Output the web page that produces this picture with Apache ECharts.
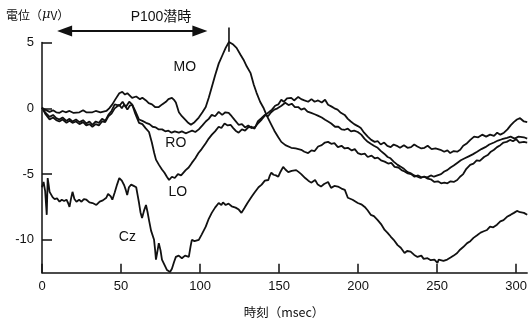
<!DOCTYPE html>
<html><head><meta charset="utf-8">
<script src="https://cdn.jsdelivr.net/npm/echarts@6/dist/echarts.min.js"></script>
<style>html,body{margin:0;padding:0;background:#fff}#c{width:530px;height:325px}</style>
</head><body><div id="c"></div>
<script>
const xTicks=[0,50,100,150,200,250,300];
const yTicks=[-10,-5,0,5];
const seriesNames=['MO','RO','LO','Cz'];

const moData=[[0,0.05],[2,-0.1],[4.8,-0.27],[7,-0.15],[9,-0.3],[11.1,-0.34],[13,-0.2],[15,-0.3],[17.4,-0.2],[20,-0.35],[23.7,-0.3],[26,-0.15],[28,-0.3],[31.9,-0.3],[34,-0.2],[37,-0.3],[40.7,-0.2],[42.5,0.0],[44.5,0.3],[46.5,0.7],[48.9,1.15],[50.8,1.25],[52.5,1.05],[54,1.15],[55.2,1.0],[57,0.8],[59.6,0.9],[62,0.7],[63.5,0.8],[65.8,0.6],[67.5,0.4],[69.6,0.3],[71.5,0.1],[73.9,0.1],[76,0.3],[78.4,0.5],[80,0.7],[82.2,0.8],[83.5,0.65],[84.7,0.45],[86.6,-0.3],[88.5,-0.6],[90.9,-0.9],[92.5,-1.1],[94.2,-1.25],[96.5,-1.05],[99.2,-0.7],[101.5,-0.3],[103.6,0.1],[105.5,0.8],[107.4,1.6],[109.5,2.5],[111.8,3.4],[114,4.0],[116.2,4.6],[118.3,5.05],[121,4.85],[123.1,4.6],[125.5,4.1],[127.5,3.7],[129.5,3.2],[131.9,2.7],[134,1.8],[135.7,1.2],[138,0.5],[140.1,0.05],[142,-0.5],[144.5,-1.1],[147,-1.7],[149.5,-2.2],[151.4,-2.55],[154,-2.8],[157.7,-3.0],[160.5,-3.05],[164,-3.15],[166,-3.3],[168.4,-3.4],[170.5,-3.2],[172.5,-3.25],[174.7,-2.9],[177,-2.8],[179,-2.6],[181,-2.55],[183,-2.7],[185,-2.65],[187.2,-2.95],[189.5,-2.85],[191.5,-3.05],[193.5,-3.0],[196,-3.2],[197.9,-3.1],[199.8,-3.4],[202,-3.5],[204.2,-3.45],[206.1,-3.7],[208.5,-3.6],[210.5,-3.8],[212.4,-3.75],[214.5,-3.95],[216.8,-4.05],[219,-4.2],[221,-4.15],[223.1,-4.45],[225.5,-4.5],[227.5,-4.7],[229.4,-4.8],[231.5,-4.95],[233.5,-5.0],[235.7,-5.2],[238,-5.1],[240,-5.25],[242,-5.2],[244,-5.35],[246,-5.4],[248.3,-5.6],[250.5,-5.55],[252.5,-5.7],[254.6,-5.65],[256.5,-5.7],[258.5,-5.55],[260.5,-5.6],[262.7,-5.45],[264.5,-5.2],[266.5,-5.0],[268.5,-4.6],[270.9,-4.3],[273,-4.2],[275,-3.95],[277,-4.0],[279.7,-3.7],[282,-3.55],[284,-3.3],[286,-3.15],[287.9,-2.95],[290,-2.8],[292,-2.6],[294,-2.55],[296.1,-2.4],[298,-2.5],[300,-2.35],[302,-2.6],[304.9,-2.55],[307,-2.6]];

const roData=[[0,0.05],[2,-0.3],[4.8,-0.65],[7,-0.5],[9,-0.75],[11,-0.85],[13,-0.7],[15.5,-0.95],[17.4,-0.8],[19.3,-1.0],[21.5,-0.85],[23.7,-1.05],[26,-0.9],[28,-1.15],[30,-1.0],[31.9,-1.25],[34,-1.0],[36,-1.1],[38,-0.8],[40,-0.95],[42,-0.5],[44,-0.2],[46,0.3],[47.2,0.4],[49,0.2],[51,0.5],[53,0.1],[55.2,0.5],[57,0.3],[59,-0.2],[61.4,-0.85],[63.5,-0.95],[65.8,-1.1],[68,-1.2],[70,-1.4],[72,-1.45],[73.9,-1.6],[76,-1.6],[78,-1.75],[80,-1.7],[82,-1.85],[84,-1.75],[86.6,-1.85],[88.5,-1.75],[90.9,-1.9],[92.9,-1.8],[95,-1.7],[97,-1.8],[99.2,-1.6],[101.5,-1.3],[103.6,-1.0],[105.5,-0.8],[107.4,-0.5],[109.5,-0.6],[111.8,-0.27],[114,-0.5],[116,-0.3],[118.1,-0.35],[120,-0.6],[122,-0.9],[124.4,-1.25],[126.5,-1.2],[128.5,-1.45],[130.5,-1.3],[132.5,-1.5],[135,-1.4],[137,-1.1],[139,-0.85],[141.4,-0.5],[143.5,-0.3],[145.5,-0.1],[147.5,0.2],[149.5,0.3],[151.4,0.65],[153,0.5],[155,0.75],[157.7,0.8],[159.5,0.6],[162.1,0.87],[164,0.7],[166,0.6],[168.4,0.5],[170.5,0.7],[172.5,0.5],[174.7,0.6],[177,0.45],[179.1,0.65],[181,0.27],[183,0.15],[185,0.0],[187,-0.1],[189.1,-0.34],[191.5,-0.5],[193.5,-0.8],[195.4,-1.0],[197.5,-1.2],[199.8,-1.35],[201.7,-1.5],[203.8,-1.85],[206.1,-2.15],[208.3,-2.4],[210.5,-2.55],[212.5,-2.5],[214.3,-2.75],[216.5,-2.6],[218.5,-2.85],[220.6,-2.95],[222.5,-2.75],[224.5,-2.85],[226.5,-3.0],[229,-2.8],[231.3,-3.0],[233.5,-2.95],[235.5,-2.75],[237.5,-2.9],[240,-3.05],[242,-3.0],[244,-2.85],[246.5,-3.1],[249,-3.05],[252.1,-3.15],[254.5,-3.3],[256.5,-3.2],[258.3,-3.4],[260.5,-3.25],[262.7,-3.3],[264.6,-3.15],[266.5,-2.85],[268.5,-2.7],[271,-2.4],[273.4,-2.15],[276,-2.2],[278.5,-2.0],[281,-2.15],[283.5,-2.0],[286,-2.1],[288,-1.85],[290,-2.0],[292.3,-1.85],[294.5,-1.6],[296.5,-1.3],[298.5,-1.05],[300.5,-0.85],[302.5,-0.75],[304.9,-1.0],[307,-1.05]];

const loData=[[0,0.05],[2,-0.4],[4.8,-0.85],[7,-0.7],[9,-0.9],[11,-1.0],[13,-0.85],[15.5,-1.1],[17.4,-0.95],[19.3,-1.1],[21.5,-1.0],[23.7,-1.2],[26,-1.05],[28,-1.3],[30,-1.2],[31.9,-1.4],[34,-1.2],[36,-1.3],[38,-1.0],[40,-1.05],[42,-0.6],[44,-0.4],[46,0.0],[48.9,0.27],[50.5,0.0],[52,0.3],[54,-0.1],[55.5,0.2],[57.1,0.27],[59,-0.4],[61.4,-1.1],[63.5,-1.2],[65.5,-1.5],[67.7,-1.8],[69.5,-2.6],[71,-3.4],[72.1,-3.9],[74,-4.3],[75.9,-4.65],[77.5,-4.9],[79,-5.2],[80.4,-5.45],[82.2,-5.2],[84,-5.3],[86,-5.0],[88,-5.1],[90.9,-4.7],[92.8,-4.5],[94.8,-4.15],[97,-3.8],[99,-3.4],[101,-3.1],[103.6,-2.65],[105.5,-2.3],[107.5,-2.0],[109.5,-1.75],[111.8,-1.4],[113.5,-1.5],[115.5,-1.15],[117.5,-1.3],[119.3,-1.25],[121,-1.5],[122.5,-1.7],[124.4,-1.85],[126.5,-1.6],[128.5,-1.7],[130.5,-1.45],[132.5,-1.4],[134.5,-1.55],[136.5,-1.0],[138.8,-0.75],[141,-0.5],[143,-0.6],[145,-0.3],[147,-0.1],[149,0.0],[151.5,0.2],[153.9,0.42],[156,0.25],[158,0.35],[160,0.1],[162.1,0.1],[164,-0.1],[166,0.0],[168,-0.25],[170.3,-0.35],[172.5,-0.45],[174.5,-0.55],[177,-0.7],[179.1,-0.87],[181,-1.0],[183,-1.15],[185.4,-1.4],[187.5,-1.4],[189.5,-1.6],[191.6,-1.63],[193.5,-1.55],[195.5,-1.75],[197.5,-1.7],[199.8,-1.8],[202,-2.0],[204,-2.3],[206.1,-2.55],[208,-2.7],[210,-2.85],[212.4,-3.0],[214.5,-3.25],[216.5,-3.45],[218.7,-3.7],[220.5,-3.8],[222.5,-4.05],[225,-4.3],[227,-4.45],[229,-4.6],[231.3,-4.85],[233.5,-4.95],[235.5,-5.1],[237.6,-5.2],[239.5,-5.3],[241.5,-5.2],[243.9,-5.25],[246,-5.1],[248,-5.2],[250.2,-5.1],[252.5,-5.0],[254.5,-4.8],[256.4,-4.7],[258.5,-4.5],[260.5,-4.35],[262.7,-4.15],[265,-3.95],[267.5,-3.8],[270,-3.65],[272.5,-3.5],[275.3,-3.3],[278,-3.1],[280.5,-2.95],[283,-2.75],[286,-2.6],[288.5,-2.45],[291,-2.35],[294.2,-2.25],[296.5,-2.15],[299,-2.3],[301.5,-2.15],[304.9,-2.2],[307,-2.3]];

const czData=[[0,-6.0],[1,-5.6],[2,-6.3],[3,-8.1],[3.6,-5.3],[4.2,-5.8],[4.8,-6.35],[5.8,-6.5],[6.7,-6.75],[8,-6.9],[9.5,-6.85],[11.1,-7.1],[12.5,-6.95],[14,-7.05],[15.5,-6.95],[16.5,-7.2],[17.4,-7.5],[18.3,-6.9],[19.3,-6.35],[20.5,-6.9],[21.8,-7.1],[23.5,-6.95],[25,-7.1],[26.5,-6.9],[28.1,-6.95],[30,-7.15],[32,-7.2],[34.4,-7.35],[36.5,-7.1],[38.5,-7.0],[40.7,-6.8],[41.8,-6.5],[42.6,-6.35],[43.5,-6.7],[44.5,-6.95],[46,-6.4],[47.5,-5.8],[48.9,-5.3],[50.5,-5.5],[52,-5.85],[53,-6.2],[53.9,-6.6],[55,-6.0],[56.4,-5.8],[58,-5.9],[59.6,-6.0],[60.5,-6.6],[61.4,-7.2],[62.3,-7.9],[63.3,-8.35],[64.5,-7.8],[65.8,-7.35],[66.8,-7.9],[67.7,-8.5],[69,-9.3],[70.9,-10.0],[71.6,-10.8],[72.1,-11.5],[73,-10.9],[73.9,-10.25],[75,-10.8],[75.9,-11.5],[77.5,-11.9],[79.1,-12.3],[81,-12.45],[82.2,-12.2],[83.5,-11.7],[84.7,-11.3],[86.5,-11.2],[88.5,-11.4],[90.5,-11.2],[92.9,-11.3],[94,-10.5],[94.8,-10.0],[96.5,-10.1],[97.5,-9.95],[99.2,-10.0],[101,-9.6],[103.6,-9.0],[105.5,-8.4],[107.4,-7.95],[109.5,-7.55],[111.8,-7.2],[113.5,-7.35],[114.5,-7.15],[116.2,-7.35],[118,-7.25],[120,-7.45],[122.5,-7.55],[124.5,-7.7],[126.2,-7.95],[128,-7.6],[130,-7.2],[132.5,-6.75],[134.5,-6.4],[137,-6.0],[139,-5.8],[141,-5.5],[143.2,-5.45],[144.2,-5.1],[145.1,-4.9],[146.5,-5.05],[148,-5.1],[149.5,-5.2],[151,-4.8],[152.6,-4.45],[154,-4.65],[155.8,-4.85],[158,-4.75],[160.8,-4.7],[162.5,-4.85],[164,-5.0],[166.5,-5.3],[168.5,-5.5],[170.3,-5.65],[172.8,-5.45],[174.5,-5.8],[176.5,-5.95],[178.5,-5.75],[181,-5.6],[182.9,-6.05],[185,-5.9],[187.2,-5.95],[189.5,-6.1],[191.6,-6.2],[193.5,-6.8],[196.5,-6.95],[199.8,-7.2],[202,-7.3],[204.2,-7.5],[206,-7.75],[208,-8.1],[210,-8.2],[212.4,-8.5],[214.5,-8.8],[216.8,-9.25],[218.5,-9.45],[220.6,-9.75],[222.5,-10.0],[225,-10.4],[227,-10.6],[229.4,-11.0],[231,-10.85],[233.2,-10.9],[235.5,-11.15],[237.6,-11.3],[240,-11.2],[241.5,-11.45],[243.9,-11.4],[246,-11.55],[248.3,-11.5],[250.2,-11.75],[251,-11.5],[252.1,-11.55],[254,-11.6],[256.4,-11.5],[258.5,-11.35],[260.5,-11.2],[262.7,-11.0],[264.5,-10.75],[266.5,-10.55],[269,-10.25],[271,-10.1],[273,-9.85],[275.3,-9.65],[277.5,-9.45],[279.5,-9.35],[281.6,-9.25],[283.5,-9.0],[285.5,-9.05],[287.9,-8.85],[290,-8.6],[292,-8.5],[294.2,-8.25],[296.5,-8.1],[298.6,-7.95],[300.5,-7.8],[302.5,-7.9],[304.9,-7.95],[307,-8.1]];

const labelPos={MO:[90.4,3.16],RO:[84.7,-2.62],LO:[86,-6.35],Cz:[54,-9.77]};
const peakMark=[[118.3,4.3],[118.3,6.15]];
const latencyArrow=[[14.3,5.89],[99.9,5.89]];

const FONT='"Liberation Sans", Arial, "Noto Sans CJK JP", sans-serif';
const CJK='"Noto Sans CJK JP", "Liberation Sans", sans-serif';
const INK='#111';

const chart=echarts.init(document.getElementById('c'),null,{renderer:'canvas'});
const dataSets={MO:moData,RO:roData,LO:loData,Cz:czData};

const series=seriesNames.map(function(n){
  return {
    name:n,type:'line',data:dataSets[n],showSymbol:false,symbol:'none',clip:false,
    lineStyle:{color:INK,width:1.8},silent:true,animation:false,z:2,
    markPoint:{
      symbol:'rect',symbolSize:1,silent:true,animation:false,
      itemStyle:{color:'rgba(0,0,0,0)'},
      label:{show:true,position:'inside',color:INK,fontSize:14,fontFamily:FONT,formatter:n},
      data:[{coord:labelPos[n]}]
    }
  };
});

series.push({
  name:'peak',type:'line',data:peakMark,showSymbol:false,symbol:'none',clip:false,silent:true,
  lineStyle:{color:INK,width:1.6},animation:false,z:3
});
series.push({
  name:'latency',type:'line',clip:false,silent:true,animation:false,z:3,
  lineStyle:{color:INK,width:2},
  showSymbol:true,showAllSymbol:true,
  itemStyle:{color:INK},
  data:[
    {value:latencyArrow[0],symbol:'triangle',symbolSize:[11,15],symbolRotate:90},
    {value:latencyArrow[1],symbol:'triangle',symbolSize:[11,15],symbolRotate:-90}
  ]
});

chart.setOption({
  animation:false,
  backgroundColor:'#fff',
  grid:{left:42,right:0,top:42.6,bottom:52.3,containLabel:false},
  xAxis:{
    type:'value',min:0,max:307,
    axisLine:{show:true,onZero:false,lineStyle:{color:INK,width:1.5}},
    axisTick:{show:true,inside:true,length:9,lineStyle:{color:INK,width:1.5},customValues:xTicks},
    axisLabel:{show:true,margin:7,fontSize:13,color:INK,fontFamily:FONT,customValues:xTicks},
    splitLine:{show:false}
  },
  yAxis:{
    type:'value',min:-12.5,max:5,
    axisLine:{show:true,onZero:false,lineStyle:{color:INK,width:1.5}},
    axisTick:{show:true,inside:true,length:10,lineStyle:{color:INK,width:1.5},customValues:yTicks},
    axisLabel:{show:true,margin:8,fontSize:13,color:INK,fontFamily:FONT,customValues:yTicks},
    splitLine:{show:false}
  },
  graphic:[
    {type:'text',x:6,y:15,style:{text:'電位（{i|μ}V）',fill:INK,font:'12px '+CJK,textVerticalAlign:'middle',
      rich:{i:{fontStyle:'italic',fontSize:13,fontFamily:'"DejaVu Serif", serif',fill:INK}}}},
    {type:'text',x:161,y:17,style:{text:'P100潜時',fill:INK,font:'14px '+FONT,textAlign:'center',textVerticalAlign:'middle'}},
    {type:'text',x:284,y:312,style:{text:'時刻（msec）',fill:INK,font:'12.5px '+CJK,textAlign:'center',textVerticalAlign:'middle'}}
  ],
  series:series
});
</script></body></html>
